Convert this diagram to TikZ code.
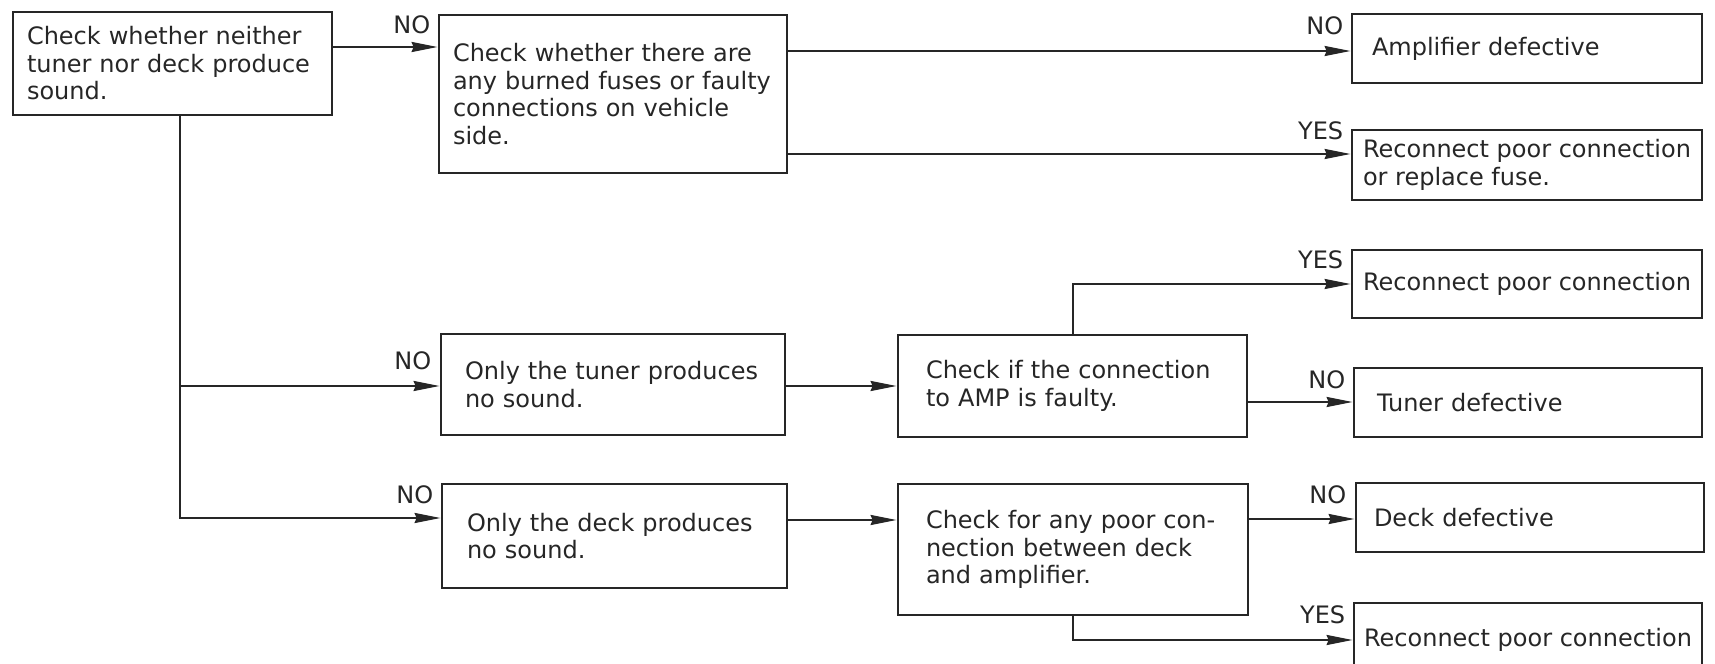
\documentclass[tikz,border=0pt]{standalone}
\usepackage{fontspec}
\setmainfont{DejaVu Sans}
\usetikzlibrary{arrows.meta,calc}
\begin{document}
\begin{tikzpicture}[x=0.5pt,y=-0.5pt,
  box/.style={draw=black!85, line width=1.4pt, rectangle, inner ysep=2pt, align=left,
    font=\fontsize{12}{13.75}\selectfont, text=black!85},
  lbl/.style={inner sep=0pt, font=\fontsize{12}{13}\selectfont, text=black!85},
  conn/.style={draw=black!85, line width=1pt},
  arr/.style={conn, -{Stealth[length=13pt,width=5pt,inset=1pt]}}]
\useasboundingbox (0,0) rectangle (1715,664);
\clip (0,0) rectangle (1715,664);
% boxes
\node[box, minimum width=159.5pt, minimum height=51.5pt, text width=145.5pt, inner xsep=7pt] (A) at (172.5,63.5)
  {Check whether neither\\tuner nor deck produce\\sound.};
\node[box, minimum width=174pt, minimum height=79pt, text width=160pt, inner xsep=7pt] (B) at (613,94)
  {Check whether there are\\any burned fuses or faulty\\connections on vehicle\\side.};
\node[box, minimum width=175pt, minimum height=34.5pt, text width=155pt, inner xsep=10pt] (C) at (1527,48.5)
  {Amplifier defective};
\node[box, minimum width=175pt, minimum height=35pt, inner xsep=2pt] (D) at (1527,165)
  {Reconnect poor connection\\or replace fuse.};
\node[box, minimum width=175pt, minimum height=34pt, inner xsep=2pt] (E) at (1527,284)
  {Reconnect poor connection};
\node[box, minimum width=174pt, minimum height=34.5pt, text width=151pt, inner xsep=11.5pt] (F) at (1528,402.5)
  {Tuner defective};
\node[box, minimum width=172pt, minimum height=50.5pt, text width=148pt, inner xsep=12pt] (G) at (613,384.5)
  {Only the tuner produces\\no sound.};
\node[box, minimum width=174.5pt, minimum height=51pt, text width=146.5pt, inner xsep=14pt] (H) at (1072.5,386)
  {Check if the connection\\to AMP is faulty.};
\node[box, minimum width=172.5pt, minimum height=52pt, text width=147.5pt, inner xsep=12.5pt] (I) at (614.5,536)
  {Only the deck produces\\no sound.};
\node[box, minimum width=175pt, minimum height=65.5pt, text width=147pt, inner xsep=14pt] (J) at (1073,549.5)
  {Check for any poor con-\\nection between deck\\and amplifier.};
\node[box, minimum width=174pt, minimum height=34.5pt, text width=156pt, inner xsep=9pt] (K) at (1530,517.5)
  {Deck defective};
\node[box, minimum width=174pt, minimum height=37pt, inner xsep=2pt] (L) at (1528,640)
  {Reconnect poor connection};
% labels
\node[lbl, anchor=east] (nB) at ($(B.west |- 0,25)+(-7,0)$) {NO};
\node[lbl, anchor=east] (nC) at ($(C.west |- 0,26)+(-7,0)$) {NO};
\node[lbl, anchor=east] (yD) at ($(D.west |- 0,131)+(-7,0)$) {YES};
\node[lbl, anchor=east] (yE) at ($(E.west |- 0,260)+(-7,0)$) {YES};
\node[lbl, anchor=east] (nG) at ($(G.west |- 0,361)+(-8,0)$) {NO};
\node[lbl, anchor=east] (nF) at ($(F.west |- 0,380)+(-7,0)$) {NO};
\node[lbl, anchor=east] (nI) at ($(I.west |- 0,495)+(-7,0)$) {NO};
\node[lbl, anchor=east] (nK) at ($(K.west |- 0,495)+(-8,0)$) {NO};
\node[lbl, anchor=east] (yL) at ($(L.west |- 0,615)+(-7,0)$) {YES};
% connectors
\coordinate (j1) at (180,386);
\coordinate (j2) at (180,518);
\draw[arr] (A.east |- 0,47) -- (B.west |- 0,47);
\draw[arr] (B.east |- 0,51) -- (C.west |- 0,51);
\draw[arr] (B.east |- 0,154) -- (D.west |- 0,154);
\draw[arr] (A.south -| j2) -- (j2) -- (I.west |- j2);
\draw[arr] (j1) -- (G.west |- j1);
\draw[arr] (G.east |- 0,386) -- (H.west |- 0,386);
\draw[arr] (H.north) -- (H.north |- E.west) -- (E.west);
\draw[arr] (H.east |- 0,402) -- (F.west |- 0,402);
\draw[arr] (I.east |- 0,520) -- (J.west |- 0,520);
\draw[arr] (J.east |- 0,519) -- (K.west |- 0,519);
\draw[arr] (J.south) -- (J.south |- 0,640) -- (L.west |- 0,640);
\end{tikzpicture}
\end{document}
